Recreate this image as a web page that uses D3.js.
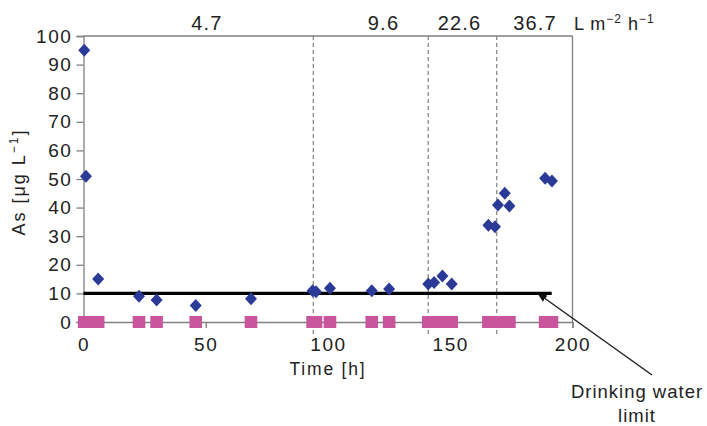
<!DOCTYPE html>
<html>
<head>
<meta charset="utf-8">
<script src="https://cdn.jsdelivr.net/npm/d3@7"></script>
<style>
    body { margin: 0; background: #fff; }
    svg text { font-family: "Liberation Sans", Arial, sans-serif; fill: #222; }
</style>
</head>
<body>
<svg></svg>
<script>
// sample times [h] and measured As [ug/L]
var times = [0.3, 1, 6, 22.7, 29.9, 45.9, 68.5, 93.7, 95.1, 100.8, 117.9, 125,
    141, 143.4, 146.8, 150.6, 165.6, 168.3, 169.5, 172.3, 174.2, 188.8, 191.6];
var arsenic = [95, 51, 15, 9, 7.7, 5.8, 8.1, 10.9, 10.6, 11.8, 10.9, 11.5,
    13.3, 13.8, 16.1, 13.3, 33.8, 33.3, 40.9, 45, 40.6, 50.3, 49.3];
// flux steps
var fluxBreaks = [94, 141, 169];
var fluxLabels = ["4.7", "9.6", "22.6", "36.7"];
var fluxLabelTimes = [50.5, 122.7, 153.8, 184.7];
var limitValue = 10;
var limitEnd = 191.5;
var xTicks = [0, 50, 100, 150, 200];
var yTicks = [0, 10, 20, 30, 40, 50, 60, 70, 80, 90, 100];

window.onload = function(){
    var svg = d3.select("svg")
        .attr("width", 707)
        .attr("height", 426);

    var left = 83.5, right = 572.5, top = 36, bottom = 322;
    var x = d3.scaleLinear().domain([0, 200]).range([left, right]);
    var y = d3.scaleLinear().domain([0, 100]).range([bottom, top]);
    var axisColor = "#808080";

    // dashed flux change lines
    svg.selectAll(".flux")
        .data(fluxBreaks).enter()
        .append("line")
        .attr("x1", function(d){ return x(d); })
        .attr("x2", function(d){ return x(d); })
        .attr("y1", top)
        .attr("y2", bottom + 12)
        .attr("stroke", "#8a8a8a")
        .attr("stroke-width", 1.3)
        .attr("stroke-dasharray", "4,3");

    // frame: top + right
    svg.append("line")
        .attr("x1", left).attr("x2", right)
        .attr("y1", top).attr("y2", top)
        .attr("stroke", axisColor).attr("stroke-width", 1.3);
    svg.append("line")
        .attr("x1", right).attr("x2", right)
        .attr("y1", top).attr("y2", bottom)
        .attr("stroke", axisColor).attr("stroke-width", 1.3);

    var xAxis = svg.append("g")
        .attr("transform", "translate(0," + bottom + ")")
        .call(d3.axisBottom(x).tickValues(xTicks).tickSize(6).tickPadding(5));
    var yAxis = svg.append("g")
        .attr("transform", "translate(" + left + ",0)")
        .call(d3.axisLeft(y).tickValues(yTicks).tickSize(7).tickPadding(4));

    [xAxis, yAxis].forEach(function(g){
        g.select(".domain").attr("stroke", axisColor).attr("stroke-width", 1.3);
        g.selectAll(".tick line").attr("stroke", axisColor).attr("stroke-width", 1.3);
        g.selectAll(".tick text")
            .attr("fill", "#222")
            .style("font-size", "19px")
            .style("letter-spacing", "1.6px")
            .style("font-family", "'Liberation Sans', Arial, sans-serif");
    });
    xAxis.selectAll(".tick text").attr("dy", "0.95em");

    // drinking water limit
    svg.append("line")
        .attr("x1", x(0)).attr("x2", x(limitEnd))
        .attr("y1", y(limitValue)).attr("y2", y(limitValue))
        .attr("stroke", "#000")
        .attr("stroke-width", 3.2);

    // pink markers on the time axis
    svg.selectAll(".sample")
        .data(times).enter()
        .append("rect")
        .attr("x", function(d){ return x(d) - 6.3; })
        .attr("y", y(0) - 6)
        .attr("width", 12.6)
        .attr("height", 12)
        .attr("fill", "#c9559c");

    // blue diamonds
    svg.selectAll(".pt")
        .data(times).enter()
        .append("path")
        .attr("d", function(d, i){
            var cx = x(d), cy = y(arsenic[i]);
            return "M" + cx + "," + (cy - 6.5) + "L" + (cx + 6) + "," + cy +
                "L" + cx + "," + (cy + 6.5) + "L" + (cx - 6) + "," + cy + "Z";
        })
        .attr("fill", "#2b3a97");

    // flux labels on top
    svg.selectAll(".fluxLabel")
        .data(fluxLabels).enter()
        .append("text")
        .attr("x", function(d, i){ return x(fluxLabelTimes[i]); })
        .attr("y", 30)
        .attr("text-anchor", "middle")
        .style("font-size", "20px")
        .style("letter-spacing", "1.2px")
        .text(function(d){ return d; });

    var unit = svg.append("text")
        .attr("x", 574)
        .attr("y", 30)
        .style("font-size", "18px")
        .style("letter-spacing", "1px");
    unit.append("tspan").text("L m");
    unit.append("tspan").attr("dy", -7).style("font-size", "12px").text("\u22122");
    unit.append("tspan").attr("dy", 7).text(" h");
    unit.append("tspan").attr("dy", -7).style("font-size", "12px").text("\u22121");

    // axis titles
    svg.append("text")
        .attr("x", 328)
        .attr("y", 375)
        .attr("text-anchor", "middle")
        .style("font-size", "17.5px")
        .style("letter-spacing", "1.8px")
        .text("Time [h]");

    var yLab = svg.append("text")
        .attr("transform", "translate(25,182) rotate(-90)")
        .attr("text-anchor", "middle")
        .style("font-size", "18px")
        .style("letter-spacing", "2px");
    yLab.append("tspan").text("As [\u03bcg L");
    yLab.append("tspan").attr("dy", -7).style("font-size", "12px").text("\u22121");
    yLab.append("tspan").attr("dy", 7).text("]");

    // annotation arrow
    svg.append("defs").append("marker")
        .attr("id", "head")
        .attr("viewBox", "0 0 10 10")
        .attr("refX", 9).attr("refY", 5)
        .attr("markerWidth", 6.5).attr("markerHeight", 6.5)
        .attr("orient", "auto")
        .append("path")
        .attr("d", "M0,1L10,5L0,9Z")
        .attr("fill", "#111");
    svg.append("line")
        .attr("x1", 652).attr("y1", 375)
        .attr("x2", 538).attr("y2", 293.5)
        .attr("stroke", "#222")
        .attr("stroke-width", 1.5)
        .attr("marker-end", "url(#head)");

    svg.selectAll(".note")
        .data(["Drinking water", "limit"]).enter()
        .append("text")
        .attr("x", 637)
        .attr("y", function(d, i){ return 398 + i * 24; })
        .attr("text-anchor", "middle")
        .style("font-size", "18.5px")
        .style("letter-spacing", "1px")
        .text(function(d){ return d; });
};
</script>
</body>
</html>
